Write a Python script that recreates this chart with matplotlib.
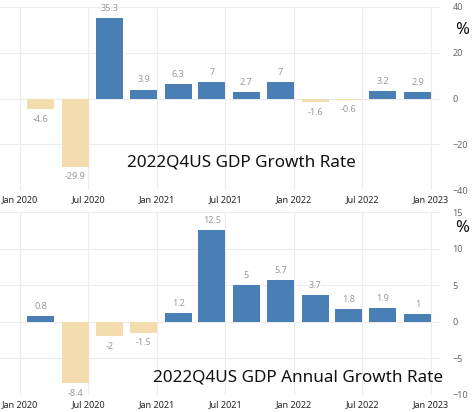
import numpy as np
import pandas as pd
import matplotlib
matplotlib.use("Agg")
import matplotlib.pyplot as plt
import matplotlib.dates as mdates

# quarterly data, 2020Q1 .. 2022Q4
quarters = ["2020Q1", "2020Q2", "2020Q3", "2020Q4",
            "2021Q1", "2021Q2", "2021Q3", "2021Q4",
            "2022Q1", "2022Q2", "2022Q3", "2022Q4"]
growth_qoq = [-4.6, -29.9, 35.3, 3.9, 6.3, 7, 2.7, 7, -1.6, -0.6, 3.2, 2.9]
growth_yoy = [0.8, -8.4, -2, -1.5, 1.2, 12.5, 5, 5.7, 3.7, 1.8, 1.9, 1]

tick_labels = ["Jan 2020", "Jul 2020", "Jan 2021", "Jul 2021",
               "Jan 2022", "Jul 2022", "Jan 2023"]
tick_dates = pd.to_datetime(["2020-01-01", "2020-07-01", "2021-01-01", "2021-07-01",
                             "2022-01-01", "2022-07-01", "2023-01-01"])

BLUE = "#4a7fb5"
TAN = "#f3dcad"
LABEL_GRAY = "#9a9a9a"

plt.rcParams['font.family'] = ['Noto Sans', 'DejaVu Sans']

# bar positions: roughly middle of each quarter
bar_dates = pd.PeriodIndex(quarters, freq="Q").start_time + pd.Timedelta(days=56)
xs = mdates.date2num(bar_dates)
width = 72


def panel(ax, vals, ylim, yticks, title, title_pos, pct_y):
    colors = [BLUE if v >= 0 else TAN for v in vals]
    ax.bar(xs, vals, width=width, color=colors, zorder=2)
    span = ylim[1] - ylim[0]
    for x, v in zip(xs, vals):
        if v >= 0:
            ax.text(x, v + span * 0.028, f"{v:g}", ha="center", va="bottom",
                    fontsize=6.5, color=LABEL_GRAY)
        else:
            ax.text(x, v - span * 0.03, f"{v:g}", ha="center", va="top",
                    fontsize=6.5, color=LABEL_GRAY)
    ax.set_ylim(*ylim)
    ax.set_yticks(yticks)
    ax.set_xlim(mdates.date2num(pd.Timestamp("2019-11-09")),
                mdates.date2num(pd.Timestamp("2023-01-25")))
    ax.set_xticks(mdates.date2num(tick_dates))
    ax.set_xticklabels(tick_labels)
    ax.yaxis.tick_right()
    ax.tick_params(axis="y", length=0, pad=9, labelsize=6.5, labelcolor="#666666")
    ax.tick_params(axis="x", length=0, pad=4, labelsize=6.5, labelcolor="#222222")
    ax.grid(True, color="#ececec", linewidth=0.8, zorder=0)
    for s in ax.spines.values():
        s.set_visible(False)
    ax.text(title_pos[0], title_pos[1], title, transform=ax.transAxes,
            ha="center", va="center", fontsize=12.3, color="#111111")
    ax.text(1.05, pct_y, "%", transform=ax.transAxes, ha="center", va="center",
            fontsize=12, color="#111111", clip_on=False)


fig = plt.figure(figsize=(4.74, 4.12), dpi=100)
ax1 = fig.add_axes([0.0, 1 - 190 / 412, 440 / 474, 183 / 412])
ax2 = fig.add_axes([0.0, 1 - 395 / 412, 440 / 474, 183 / 412])

panel(ax1, growth_qoq, (-40, 40), [-40, -20, 0, 20, 40],
      "2022Q4US GDP Growth Rate", (0.548, 0.148), 0.875)
panel(ax2, growth_yoy, (-10, 15), [-10, -5, 0, 5, 10, 15],
      "2022Q4US GDP Annual Growth Rate", (0.678, 0.098), 0.915)

fig.savefig("out.png", dpi=100)
